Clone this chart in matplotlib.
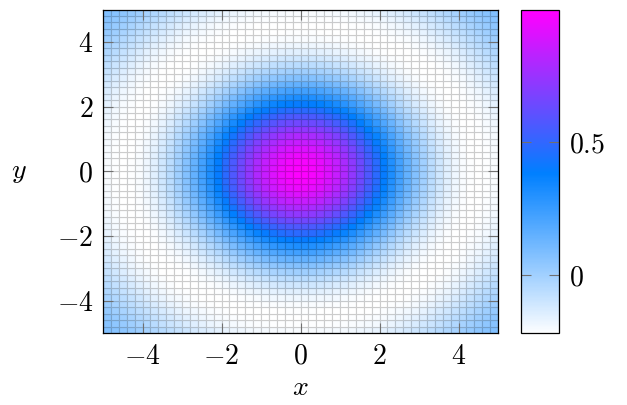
import numpy as np
import matplotlib
matplotlib.use("Agg")
import matplotlib.pyplot as plt
from matplotlib.colors import LinearSegmentedColormap, Normalize

plt.rcParams['mathtext.fontset'] = 'cm'
plt.rcParams['font.family'] = ['DejaVu Serif']

# Surface z = sin(r)/r sampled on a regular grid
domain = (-5.0, 5.0)
samples = 51
x_ticks = [-4, -2, 0, 2, 4]
y_ticks = [-4, -2, 0, 2, 4]
cbar_ticks = [0, 0.5]
map_colors = ["#ffffff", "#0080ff", "#ff00ff"]

xs = np.linspace(domain[0], domain[1], samples)
ys = np.linspace(domain[0], domain[1], samples)
X, Y = np.meshgrid(xs, ys)
R = np.hypot(X, Y)
Z = np.sinc(R / np.pi)  # sin(r)/r

# flat facets: each cell takes the mean of its four corners
Zc = 0.25 * (Z[:-1, :-1] + Z[1:, :-1] + Z[:-1, 1:] + Z[1:, 1:])

cmap = LinearSegmentedColormap.from_list("wbm", map_colors)
norm = Normalize(vmin=Z.min(), vmax=Z.max())

fs = 20

fig = plt.figure(figsize=(6.27, 4.05), dpi=100)
ax = fig.add_axes([103 / 627, 72 / 405, 395 / 627, 323.5 / 405])
cax = fig.add_axes([521 / 627, 72 / 405, 38 / 627, 323.5 / 405])

mesh = ax.pcolormesh(xs, ys, Zc, cmap=cmap, norm=norm, shading='flat',
                     linewidth=0.8, antialiased=True)
face = cmap(norm(Zc.ravel()))
edge = face.copy()
edge[:, :3] *= 0.8
mesh.set_edgecolor(edge)

ax.set_xlim(domain)
ax.set_ylim(domain)
ax.set_xticks(x_ticks)
ax.set_yticks(y_ticks)
ax.set_xticklabels([f"${v}$" if v >= 0 else f"$-{abs(v)}$" for v in x_ticks])
ax.set_yticklabels([f"${v}$" if v >= 0 else f"$-{abs(v)}$" for v in y_ticks])
ax.tick_params(direction='in', length=7, width=0.8, color='#707070',
               top=True, right=True, labelsize=fs, pad=7)
for s in ax.spines.values():
    s.set_linewidth(0.9)
ax.set_xlabel("$x$", fontsize=fs, labelpad=3)
ax.set_ylabel("$y$", fontsize=fs, rotation=0, labelpad=27, va='center')

cb = fig.colorbar(mesh, cax=cax)
cb.solids.set_edgecolor("face")
cb.set_ticks(cbar_ticks)
cb.set_ticklabels(["$0$", "$0.5$"])
cax.tick_params(direction='in', length=7, width=0.8, color='#707070',
                left=True, right=True, labelsize=fs, pad=7)
cb.outline.set_linewidth(0.9)

fig.savefig("out.png", dpi=100)
